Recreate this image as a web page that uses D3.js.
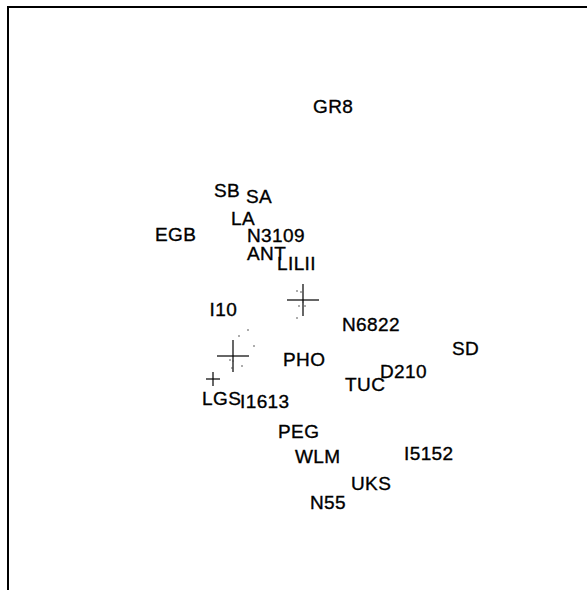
<!DOCTYPE html>
<html>
<head>
<meta charset="utf-8">
<script src="https://cdn.jsdelivr.net/npm/d3@7"></script>
<style>
  html, body { margin: 0; padding: 0; background: #fff; }
  svg { display: block; }
</style>
</head>
<body>
<div id="chart"></div>
<script>
// Galaxy names and positions (arbitrary map units; label anchor = left/baseline)
const names = ["GR8","SB","SA","LA","EGB","N3109","ANT","LILII","I10","N6822","PHO","SD","D210","TUC","LGS","I1613","PEG","WLM","I5152","UKS","N55"];
const labelX = [0.45,-0.54,-0.22,-0.37,-1.13,-0.21,-0.21,0.09,-0.585,0.74,0.15,1.84,1.12,0.77,-0.66,-0.28,0.10,0.27,1.36,0.83,0.42];
const labelY = [2.15,1.31,1.25,1.03,0.87,0.86,0.68,0.58,0.12,-0.03,-0.38,-0.27,-0.50,-0.63,-0.77,-0.80,-1.10,-1.35,-1.32,-1.62,-1.81];

// Big crosses (two dominant galaxies) and a small cross
const crossX = [0.35, -0.35, -0.55];
const crossY = [0.28, -0.28, -0.51];
const crossSize = [0.16, 0.16, 0.07];

// Satellite dots
const dotX = [0.29,0.33,0.31,0.37,0.29,0.35, -0.20,-0.29,-0.14,-0.38,-0.35,-0.26,-0.36];
const dotY = [0.37,0.36,0.22,0.22,0.10,0.26, -0.02,-0.08,-0.18,-0.32,-0.33,-0.38,-0.40];

const W = 587, H = 590;
const x = d3.scaleLinear().domain([-2.6, 3.2]).range([8, 588]);
const y = d3.scaleLinear().domain([-2.62, 3.22]).range([590, 6]);

const svg = d3.select("#chart").append("svg").attr("width", W).attr("height", H);

// Frame (top and left edges of the plot box)
svg.append("line").attr("x1", x(-2.6) - 1).attr("x2", x(3.2)).attr("y1", y(3.21)).attr("y2", y(3.21))
  .attr("stroke", "#000").attr("stroke-width", 2);
svg.append("line").attr("x1", x(-2.6)).attr("x2", x(-2.6)).attr("y1", y(3.22)).attr("y2", y(-2.62))
  .attr("stroke", "#000").attr("stroke-width", 2);

// Crosses
const crosses = crossX.map((cx, i) => ({cx, cy: crossY[i], s: crossSize[i]}));
const cg = svg.append("g").attr("stroke", "#000").attr("stroke-width", 1.2);
crosses.forEach(c => {
  cg.append("line").attr("x1", x(c.cx - c.s)).attr("x2", x(c.cx + c.s))
    .attr("y1", y(c.cy)).attr("y2", y(c.cy));
  cg.append("line").attr("x1", x(c.cx)).attr("x2", x(c.cx))
    .attr("y1", y(c.cy + c.s)).attr("y2", y(c.cy - c.s));
});

// Dots
svg.append("g").selectAll("circle").data(dotX.map((d, i) => [d, dotY[i]])).join("circle")
  .attr("cx", d => x(d[0])).attr("cy", d => y(d[1])).attr("r", 0.8).attr("fill", "#444");

// Labels
svg.append("g").selectAll("text").data(names.map((n, i) => ({n, lx: labelX[i], ly: labelY[i]}))).join("text")
  .attr("x", d => x(d.lx)).attr("y", d => y(d.ly))
  .attr("font-family", "'Liberation Sans', Arial, sans-serif")
  .attr("font-size", 19).attr("letter-spacing", 0.4)
  .attr("fill", "#000").attr("stroke", "#000").attr("stroke-width", 0.35)
  .text(d => d.n);
</script>
</body>
</html>
